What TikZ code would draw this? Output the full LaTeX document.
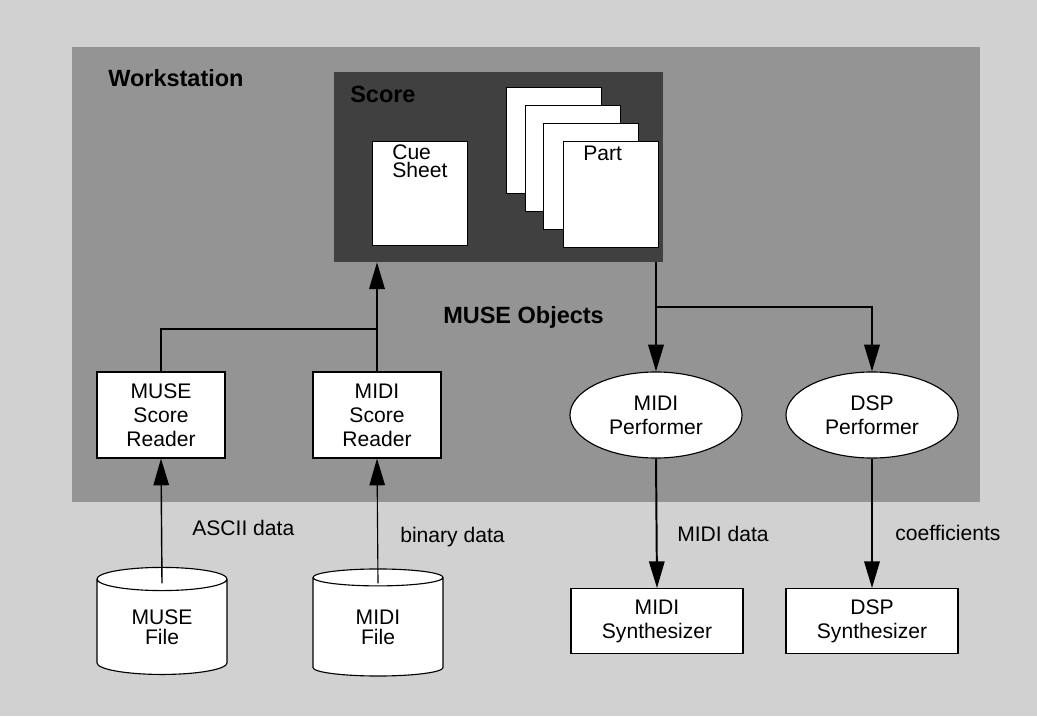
\documentclass[tikz,border=0pt]{standalone}
\usepackage{fontspec}
\setmainfont{Liberation Sans}
\usetikzlibrary{shapes.geometric, arrows.meta, positioning}

\tikzset{
  txt/.style={font=\fontsize{15}{17}\selectfont, align=center, inner sep=0pt},
  boldtxt/.style={font=\fontsize{16.7}{18}\selectfont\bfseries, inner sep=0pt},
  reader/.style={txt, draw, fill=white, line width=0.8pt, minimum width=3.2cm, minimum height=2.15cm},
  synth/.style={txt, draw, fill=white, line width=0.8pt, minimum width=4.3cm, minimum height=1.62cm},
  performer/.style={txt, ellipse, draw, fill=white, line width=0.8pt, minimum width=4.3cm, minimum height=2.15cm},
  datafile/.style={txt, font=\fontsize{15}{14}\selectfont, cylinder, shape border rotate=90, aspect=0.38, draw, fill=white, line width=0.8pt, minimum width=3.25cm, minimum height=2.675cm},
  sheet/.style={draw, fill=white, line width=0.6pt, inner sep=0pt, minimum width=2.375cm, minimum height=2.65cm},
  flow/.style={line width=1.4pt, -{Triangle[length=19pt,width=11pt]}},
  wire/.style={line width=1.4pt},
}

\begin{document}
\begin{tikzpicture}[x=0.025cm, y=-0.025cm]
% page and shaded areas
\fill[black!18] (0,0) rectangle (1037,716);
\useasboundingbox (0,0) rectangle (1037,716);
\node[fill=black!42, inner sep=0pt, minimum width=22.7cm, minimum height=11.375cm] (workstation) at (526,274.5) {};
\node[fill=black!75, inner sep=0pt, minimum width=8.225cm, minimum height=4.75cm] (score) at (498.5,167) {};

\node[boldtxt, anchor=base west] (wslabel) at (108,87) {Workstation};
\node[boldtxt, anchor=base west] (scorelabel) at (350,102) {Score};
\node[boldtxt, anchor=base west] (objlabel) at (443,323) {MUSE Objects};

% score contents
\node[sheet, anchor=north west, minimum height=2.6cm] (cue) at (372,141) {};
\node[txt, align=left, anchor=north west, font=\fontsize{15}{13.5}\selectfont] (cuetext) at (392,144) {Cue\\Sheet};
\foreach \i/\sx/\sy in {1/506/87, 2/525/105, 3/543/123, 4/563/141}
  \node[sheet, anchor=north west] (part\i) at (\sx,\sy) {};
\node[txt, anchor=base west] (parttext) at (583,160) {Part};

% readers and performers
\node[reader] (musereader) at (161,415) {MUSE\\Score\\Reader};
\node[reader] (midireader) at (377,415) {MIDI\\Score\\Reader};
\node[performer] (midiperf) at (656,415) {MIDI\\Performer};
\node[performer] (dspperf) at (872,415) {DSP\\Performer};

% outside the workstation
\node[datafile] (musefile) at (162,627) {MUSE\\File};
\node[datafile] (midifile) at (378,627) {MIDI\\File};
\node[synth] (midisynth) at (657,621) {MIDI\\Synthesizer};
\node[synth] (dspsynth) at (872,621) {DSP\\Synthesizer};

% connectors
\coordinate (merge) at (midireader.north |- 0,329);
\draw[wire] (musereader.north) |- (merge);
\draw[flow] (midireader.north) -- (midireader.north |- score.south);

\coordinate (split) at (midiperf.north |- 0,307);
\draw[flow] (midiperf.north |- score.south) -- (midiperf.north);
\draw[flow] (split) -| (dspperf.north);

\draw[flow, line width=1pt] ([yshift=31pt]musefile.center) -- (musereader.south);
\draw[flow, line width=0.8pt] ([yshift=31pt]midifile.center) -- (midireader.south);
\draw[flow] (midiperf.south) -- (midisynth.north);
\draw[flow] (dspperf.south) -- (dspsynth.north);

\node[txt, anchor=base west] (asciilabel) at (192,535) {ASCII data};
\node[txt, anchor=base west] (binarylabel) at (400,542) {binary data};
\node[txt, anchor=base west] (mididatalabel) at (677,541) {MIDI data};
\node[txt, anchor=base west] (coeflabel) at (895,540) {coefficients};
\end{tikzpicture}
\end{document}
